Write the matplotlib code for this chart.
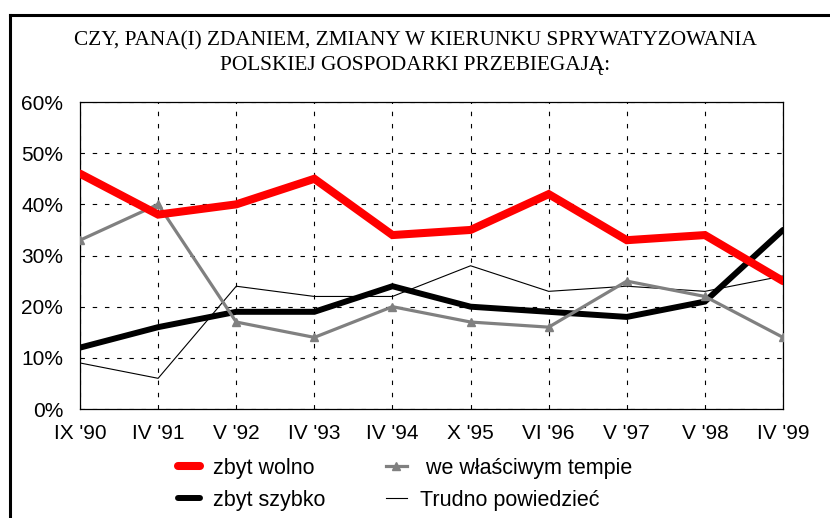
import matplotlib
matplotlib.use("Agg")
import matplotlib.pyplot as plt
from matplotlib.lines import Line2D
from matplotlib.ticker import FuncFormatter


CATEGORIES = ["IX '90", "IV '91", "V '92", "IV '93", "IV '94",
              "X '95", "VI '96", "V '97", "V '98", "IV '99"]
ZBYT_WOLNO = [46, 38, 40, 45, 34, 35, 42, 33, 34, 25]
WLASCIWE_TEMPO = [33, 40, 17, 14, 20, 17, 16, 25, 22, 14]
ZBYT_SZYBKO = [12, 16, 19, 19, 24, 20, 19, 18, 21, 35]
TRUDNO = [9, 6, 24, 22, 22, 28, 23, 24, 23, 26]
Y_TICKS = [0, 10, 20, 30, 40, 50, 60]
TITLE = "CZY, PANA(I) ZDANIEM, ZMIANY W KIERUNKU SPRYWATYZOWANIA\nPOLSKIEJ GOSPODARKI PRZEBIEGAJĄ:"

plt.rcParams["font.family"] = ["Liberation Sans", "DejaVu Sans"]


def main() -> None:
    fig = plt.figure(figsize=(8.3, 5.18), dpi=100)
    ax = fig.add_axes([0.0964, 0.2104, 0.847, 0.5926])

    x = list(range(len(CATEGORIES)))
    h_trudno, = ax.plot(x, TRUDNO, color="black", linewidth=0.8, zorder=3)
    h_szybko, = ax.plot(x, ZBYT_SZYBKO, color="black", linewidth=4.3,
                        solid_capstyle="round", solid_joinstyle="miter", zorder=4)
    h_tempo, = ax.plot(x, WLASCIWE_TEMPO, color="#808080", linewidth=2.3,
                       marker="^", markersize=6, zorder=5)
    h_wolno, = ax.plot(x, ZBYT_WOLNO, color="#ff0000", linewidth=5.8,
                       solid_capstyle="round", solid_joinstyle="miter", zorder=6)

    ax.set_xlim(0, len(CATEGORIES) - 1)
    ax.set_ylim(0, 60)
    ax.set_xticks(x)
    ax.set_xticklabels(CATEGORIES)
    ax.set_yticks(Y_TICKS)
    ax.yaxis.set_major_formatter(FuncFormatter(lambda v, _: f"{v:.0f}%"))
    ax.tick_params(axis="both", length=0, labelsize=15)
    ax.tick_params(axis="x", pad=11)
    ax.tick_params(axis="y", pad=12)
    ax.grid(True, color="black", linestyle=(0, (4, 7)), linewidth=0.8)
    for spine in ax.spines.values():
        spine.set_linewidth(0.9)

    fig.text(0.5, 0.898, TITLE, ha="center", va="center", fontsize=15.3,
             family=["Liberation Serif", "DejaVu Serif"], linespacing=1.4)

    fig.legend([h_wolno, h_szybko, h_tempo, h_trudno],
               ["zbyt wolno", "zbyt szybko", " we właściwym tempie", "Trudno powiedzieć"],
               ncol=2, loc="center left", bbox_to_anchor=(0.215, 0.065),
               frameon=False, fontsize=15.5, handlelength=1.0, handletextpad=0.6,
               columnspacing=2.8, labelspacing=0.5, markerscale=0.9,
               borderpad=0.0, borderaxespad=0.0)

    # frame drawn around the whole figure (open on the right and bottom)
    fig.add_artist(Line2D([0.012, 0.012], [0.0, 0.971], color="black", linewidth=2.2))
    fig.add_artist(Line2D([0.012, 1.0], [0.971, 0.971], color="black", linewidth=2.2))

    fig.savefig("out.png", dpi=100)
    plt.close(fig)


if __name__ == "__main__":
    main()
